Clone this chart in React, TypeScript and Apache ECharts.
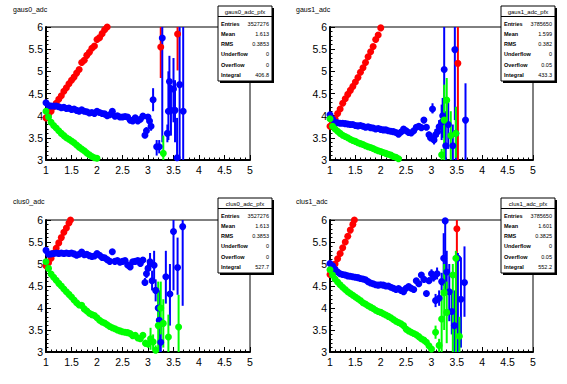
import React, { useEffect, useRef } from "react";
import * as echarts from "echarts";

// ---------- data (x, y) for dense bins; tails are [x, y, low, high] ----------
const titles = ["gaus0_adc", "gaus1_adc", "clus0_adc", "clus1_adc"];
const statNames = ["gaus0_adc_pfx", "gaus1_adc_pfx", "clus0_adc_pfx", "clus1_adc_pfx"];
const statLabels = ["Entries", "Mean", "RMS", "Underflow", "Overflow", "Integral"];
const statValues = [
  ["3527276", "1.613", "0.3853", "0", "0", "406.8"],
  ["3785650", "1.599", "0.382", "0", "0.05", "433.3"],
  ["3527276", "1.613", "0.3853", "0", "0", "527.7"],
  ["3785650", "1.601", "0.3825", "0", "0.05", "552.2"],
];
const xTicks = [1, 1.5, 2, 2.5, 3, 3.5, 4, 4.5, 5];
const yTicks = [3, 3.5, 4, 4.5, 5, 5.5, 6];

// panel 0: gaus0_adc
const red0 = [[1.00,3.95],[1.05,4.03],[1.10,4.10],[1.15,4.20],[1.20,4.28],[1.25,4.37],[1.30,4.45],[1.35,4.55],[1.40,4.63],[1.45,4.72],[1.50,4.80],[1.55,4.87],[1.60,4.96],[1.65,5.04],[1.70,5.20],[1.75,5.25],[1.80,5.36],[1.85,5.43],[1.90,5.52],[1.95,5.57],[2.00,5.72],[2.05,5.76],[2.10,5.85],[2.15,5.94],[2.20,6.00]];
const red0Tail = [[3.25,5.55,4.85,6.5],[3.58,5.84,5.02,6.6]];
const blue0 = [[1.00,4.29],[1.05,4.23],[1.10,4.22],[1.15,4.22],[1.20,4.22],[1.25,4.20],[1.30,4.18],[1.35,4.19],[1.40,4.16],[1.45,4.17],[1.50,4.14],[1.55,4.15],[1.60,4.12],[1.65,4.10],[1.70,4.13],[1.75,4.10],[1.80,4.09],[1.85,4.06],[1.90,4.07],[1.95,4.05],[2.00,4.10],[2.05,4.07],[2.10,4.05],[2.15,4.04],[2.20,4.00],[2.25,4.02],[2.30,4.10],[2.35,3.99],[2.40,4.00],[2.45,3.97],[2.50,3.97],[2.55,3.98],[2.60,3.97],[2.65,3.90],[2.70,3.88],[2.75,3.95],[2.80,3.88],[2.85,3.92],[2.90,3.99]];
const blue0Tail = [[2.94,3.56,3.50,3.63],[2.97,3.66,3.58,3.74],[3.00,3.97,3.90,4.04],[3.03,3.88,3.80,3.95],[3.06,3.76,3.66,3.86],[3.10,4.36,4.10,4.62],[3.17,3.30,3.10,3.45],[3.22,3.30,3.15,3.45],[3.28,5.75,3.40,6.5],[3.38,3.60,3.40,3.80],[3.40,4.10,3.45,5.00],[3.42,4.77,4.15,5.35],[3.45,4.12,3.55,4.70],[3.50,4.60,3.85,5.30],[3.53,4.12,3.40,4.80],[3.57,3.05,2.80,3.95],[3.62,4.70,3.00,6.00],[3.69,4.10,3.00,6.00]];
const green0 = [[1.00,4.10],[1.05,3.97],[1.10,3.85],[1.15,3.78],[1.20,3.72],[1.25,3.66],[1.30,3.60],[1.35,3.55],[1.40,3.50],[1.45,3.47],[1.50,3.43],[1.55,3.39],[1.60,3.34],[1.65,3.29],[1.70,3.25],[1.75,3.21],[1.80,3.16],[1.85,3.12],[1.90,3.08],[1.95,3.05],[2.00,3.04]];
const green0Tail = [[3.30,3.15,2.90,3.55]];

// panel 1: gaus1_adc
const red1 = [[1.00,3.76],[1.05,3.85],[1.10,3.93],[1.15,4.05],[1.20,4.15],[1.25,4.28],[1.30,4.38],[1.35,4.48],[1.40,4.57],[1.45,4.66],[1.50,4.76],[1.55,4.86],[1.60,4.98],[1.65,5.08],[1.70,5.20],[1.75,5.33],[1.80,5.44],[1.85,5.56],[1.90,5.72],[1.95,5.82],[2.00,5.98]];
const red1Tail = [[3.52,5.18,3.00,6.5]];
const blue1 = [[1.00,4.02],[1.05,3.92],[1.10,3.85],[1.15,3.84],[1.20,3.83],[1.25,3.83],[1.30,3.82],[1.35,3.81],[1.40,3.80],[1.45,3.80],[1.50,3.78],[1.55,3.77],[1.60,3.78],[1.65,3.76],[1.70,3.74],[1.75,3.75],[1.80,3.73],[1.85,3.72],[1.90,3.70],[1.95,3.71],[2.00,3.69],[2.05,3.68],[2.10,3.68],[2.15,3.66],[2.20,3.65],[2.25,3.64],[2.30,3.62],[2.35,3.58],[2.40,3.63],[2.45,3.70],[2.50,3.66],[2.55,3.62],[2.60,3.61],[2.65,3.66],[2.70,3.74],[2.75,3.76],[2.80,3.73],[2.85,3.90],[2.90,3.74]];
const blue1Tail = [[2.95,3.57,3.50,3.64],[2.98,3.50,3.42,3.58],[3.02,4.15,4.05,4.28],[3.05,3.45,3.35,3.55],[3.08,3.57,3.45,3.70],[3.12,3.64,3.52,3.76],[3.15,3.75,3.60,3.90],[3.20,3.85,3.45,4.25],[3.22,4.00,3.50,4.40],[3.25,5.04,4.10,6.5],[3.28,3.32,3.00,4.10],[3.33,3.80,3.25,4.30],[3.42,3.32,3.00,3.80],[3.46,5.49,3.90,6.5],[3.48,3.60,3.00,4.20],[3.67,3.90,3.00,4.73]];
const green1 = [[1.00,3.93],[1.05,3.76],[1.10,3.70],[1.15,3.65],[1.20,3.60],[1.25,3.56],[1.30,3.53],[1.35,3.50],[1.40,3.47],[1.45,3.44],[1.50,3.42],[1.55,3.39],[1.60,3.37],[1.65,3.35],[1.70,3.32],[1.75,3.30],[1.80,3.28],[1.85,3.26],[1.90,3.23],[1.95,3.21],[2.00,3.19],[2.05,3.17],[2.10,3.15],[2.15,3.13],[2.20,3.11],[2.25,3.08],[2.30,3.06],[2.35,3.03]];
const green1Tail = [[3.20,3.12,3.00,3.25],[3.25,3.90,3.00,4.70],[3.30,4.35,3.80,4.85],[3.38,3.55,3.00,4.10],[3.48,3.60,3.05,4.20]];

// panel 2: clus0_adc
const red2 = [[1.00,4.96],[1.05,5.03],[1.10,5.13],[1.15,5.25],[1.20,5.36],[1.25,5.48],[1.30,5.60],[1.35,5.72],[1.40,5.82],[1.45,5.93],[1.48,6.00]];
const red2Tail = [];
const blue2 = [[1.00,5.31],[1.05,5.22],[1.10,5.23],[1.15,5.24],[1.20,5.25],[1.25,5.24],[1.30,5.25],[1.35,5.24],[1.40,5.25],[1.45,5.24],[1.50,5.25],[1.55,5.23],[1.60,5.20],[1.65,5.22],[1.70,5.27],[1.75,5.21],[1.80,5.22],[1.85,5.19],[1.90,5.17],[1.95,5.18],[2.00,5.24],[2.05,5.20],[2.10,5.15],[2.15,5.14],[2.20,5.10],[2.25,5.06],[2.30,5.28],[2.35,5.06],[2.40,5.08],[2.45,5.04],[2.50,5.06],[2.55,5.08],[2.60,4.98],[2.65,4.93],[2.70,5.05],[2.75,5.06],[2.80,5.08],[2.85,5.01],[2.90,5.09]];
const blue2Tail = [[2.94,4.58,4.50,4.68],[2.97,4.78,4.68,4.88],[3.00,4.90,4.78,5.02],[3.04,5.05,4.85,5.25],[3.08,4.62,4.40,4.85],[3.12,4.97,4.60,5.30],[3.15,4.40,4.15,4.65],[3.20,4.00,3.60,4.45],[3.22,3.72,3.00,4.40],[3.25,3.22,3.00,3.60],[3.35,4.71,4.10,5.30],[3.43,4.32,3.60,5.00],[3.50,5.74,4.40,6.5],[3.58,4.92,4.30,5.60],[3.68,5.85,4.05,6.5]];
const green2 = [[1.00,5.05],[1.05,4.90],[1.10,4.77],[1.15,4.70],[1.20,4.63],[1.25,4.56],[1.30,4.50],[1.35,4.43],[1.40,4.37],[1.45,4.31],[1.50,4.25],[1.55,4.18],[1.60,4.12],[1.65,4.07],[1.70,4.06],[1.75,3.98],[1.80,3.93],[1.85,3.88],[1.90,3.85],[1.95,3.83],[2.00,3.78],[2.05,3.72],[2.10,3.68],[2.15,3.66],[2.20,3.62],[2.25,3.58],[2.30,3.55],[2.35,3.53],[2.40,3.50],[2.45,3.48],[2.50,3.46],[2.55,3.45],[2.60,3.44],[2.65,3.42],[2.70,3.37],[2.75,3.38],[2.80,3.32],[2.85,3.30],[2.90,3.38]];
const green2Tail = [[2.95,3.20,3.12,3.28],[3.00,3.18,3.10,3.26],[3.05,3.30,3.05,3.55],[3.10,3.23,3.05,3.40],[3.15,3.04,3.00,3.15],[3.20,3.60,3.00,4.60],[3.25,4.00,3.40,4.60],[3.30,3.65,3.10,4.20],[3.40,3.34,3.00,3.85],[3.60,3.57,3.00,4.30]];

// panel 3: clus1_adc
const red3 = [[1.00,4.76],[1.05,4.85],[1.10,5.00],[1.15,5.12],[1.20,5.24],[1.25,5.37],[1.30,5.50],[1.35,5.63],[1.40,5.77],[1.45,5.90],[1.48,6.00]];
const red3Tail = [[3.50,5.80,3.50,6.5]];
const blue3 = [[1.00,5.01],[1.05,4.96],[1.10,4.88],[1.15,4.82],[1.20,4.78],[1.25,4.76],[1.30,4.75],[1.35,4.73],[1.40,4.72],[1.45,4.71],[1.50,4.70],[1.55,4.69],[1.60,4.67],[1.65,4.66],[1.70,4.64],[1.75,4.60],[1.80,4.57],[1.85,4.55],[1.90,4.53],[1.95,4.52],[2.00,4.53],[2.05,4.52],[2.10,4.50],[2.15,4.50],[2.20,4.47],[2.25,4.45],[2.30,4.42],[2.35,4.44],[2.40,4.40],[2.45,4.37],[2.50,4.45],[2.55,4.49],[2.60,4.45],[2.65,4.42],[2.70,4.62],[2.75,4.55],[2.80,4.75],[2.85,4.65],[2.90,4.33]];
const blue3Tail = [[2.95,4.62,4.55,4.70],[3.00,4.78,4.68,4.88],[3.04,4.70,4.60,4.80],[3.08,4.17,4.02,4.32],[3.11,4.78,4.65,4.92],[3.15,4.22,4.05,4.40],[3.20,4.60,4.40,4.80],[3.24,5.13,4.50,5.70],[3.27,5.98,4.40,6.5],[3.30,4.82,4.40,5.30],[3.35,4.37,3.70,5.00],[3.40,3.92,3.40,4.40],[3.45,3.60,3.00,4.40],[3.52,5.13,3.00,5.25],[3.58,4.20,3.10,5.15],[3.65,4.58,3.80,5.40]];
const green3 = [[1.00,4.87],[1.05,4.75],[1.10,4.66],[1.15,4.59],[1.20,4.53],[1.25,4.47],[1.30,4.42],[1.35,4.37],[1.40,4.33],[1.45,4.29],[1.50,4.25],[1.55,4.21],[1.60,4.17],[1.65,4.12],[1.70,4.09],[1.75,4.05],[1.80,4.02],[1.85,3.99],[1.90,3.95],[1.95,3.92],[2.00,3.90],[2.05,3.87],[2.10,3.84],[2.15,3.81],[2.20,3.78],[2.25,3.74],[2.30,3.70],[2.35,3.67],[2.40,3.64],[2.45,3.60],[2.50,3.52],[2.55,3.48],[2.60,3.45],[2.65,3.42],[2.70,3.39],[2.75,3.35],[2.80,3.30],[2.85,3.27],[2.90,3.22],[2.95,3.14],[3.00,3.07]];
const green3Tail = [[3.08,3.45,3.30,3.60],[3.15,3.15,3.00,3.30],[3.20,3.75,3.00,4.40],[3.25,4.35,3.50,5.00],[3.30,3.90,3.20,4.60],[3.42,4.75,3.00,5.00],[3.48,5.13,3.00,5.30],[3.55,3.36,3.00,3.80]];

const panels = [
  { red: red0, redT: red0Tail, blue: blue0, blueT: blue0Tail, green: green0, greenT: green0Tail },
  { red: red1, redT: red1Tail, blue: blue1, blueT: blue1Tail, green: green1, greenT: green1Tail },
  { red: red2, redT: red2Tail, blue: blue2, blueT: blue2Tail, green: green2, greenT: green2Tail },
  { red: red3, redT: red3Tail, blue: blue3, blueT: blue3Tail, green: green3, greenT: green3Tail },
];

const RED = "#ff0000";
const BLUE = "#0000ff";
const GREEN = "#00ff00";
const FONT = "'Liberation Sans', Arial, sans-serif";

// layout
const offsets = [[0, 0], [283, 0], [0, 192], [283, 192]];
const gridBox = [
  { left: 46, top: 27, width: 204, height: 133 },
  { left: 330, top: 27, width: 203, height: 133 },
  { left: 46, top: 220, width: 204, height: 132 },
  { left: 330, top: 220, width: 203, height: 132 },
];

function barSeries(idx: number, tail: number[][], color: string) {
  return {
    type: "custom",
    xAxisIndex: idx,
    yAxisIndex: idx,
    silent: true,
    data: tail.map((t) => [t[0], t[2], t[3]]),
    encode: { x: 0, y: [1, 2] },
    renderItem: (params: any, api: any) => {
      const x = api.value(0);
      const lo = Math.max(3, api.value(1));
      const hi = Math.min(6, api.value(2));
      if (hi <= lo) return null;
      const p1 = api.coord([x, lo]);
      const p2 = api.coord([x, hi]);
      return {
        type: "line",
        shape: { x1: p1[0], y1: p1[1], x2: p2[0], y2: p2[1] },
        style: { stroke: color, lineWidth: 2 },
      };
    },
  };
}

function pointSeries(idx: number, dense: number[][], tail: number[][], color: string) {
  return {
    type: "scatter",
    xAxisIndex: idx,
    yAxisIndex: idx,
    silent: true,
    clip: true,
    symbol: "circle",
    symbolSize: 7,
    itemStyle: { color, opacity: 1 },
    data: dense.concat(tail.map((t) => [t[0], t[1]])),
  };
}

function statsBox(i: number) {
  const [ox, oy] = offsets[i];
  const x = ox + 218;
  const y = oy + 6;
  const w = 54;
  const h = 75;
  const children: any[] = [
    { type: "rect", shape: { x: x + 2, y: y + 2, width: w, height: h }, style: { fill: "#000" } },
    { type: "rect", shape: { x, y, width: w, height: h }, style: { fill: "#fff", stroke: "#000", lineWidth: 1 } },
    { type: "line", shape: { x1: x, y1: y + 10.5, x2: x + w, y2: y + 10.5 }, style: { stroke: "#000", lineWidth: 1 } },
    {
      type: "text",
      style: { x: x + w / 2, y: y + 5.5, text: statNames[i], align: "center", verticalAlign: "middle", font: `6px ${FONT}`, fill: "#000" },
    },
  ];
  statLabels.forEach((lab, k) => {
    const ty = y + 17.5 + k * 10.3;
    children.push({
      type: "text",
      style: { x: x + 3, y: ty, text: lab, align: "left", verticalAlign: "middle", font: `bold 5.5px ${FONT}`, fill: "#000" },
    });
    children.push({
      type: "text",
      style: { x: x + w - 3, y: ty, text: statValues[i][k], align: "right", verticalAlign: "middle", font: `5.5px ${FONT}`, fill: "#000" },
    });
  });
  return { type: "group", z: 100, children };
}

export default function App() {
  const ref = useRef<HTMLDivElement>(null);
  useEffect(() => {
    if (!ref.current) return;
    const chart = echarts.init(ref.current, undefined, { renderer: "svg" });
    const series: any[] = [];
    panels.forEach((p, i) => {
      series.push(barSeries(i, p.redT, RED));
      series.push(pointSeries(i, p.red, p.redT, RED));
      series.push(barSeries(i, p.blueT, BLUE));
      series.push(pointSeries(i, p.blue, p.blueT, BLUE));
      series.push(barSeries(i, p.greenT, GREEN));
      series.push(pointSeries(i, p.green, p.greenT, GREEN));
    });
    const graphics: any[] = [];
    titles.forEach((t, i) => {
      const [ox, oy] = offsets[i];
      graphics.push({
        type: "text",
        style: { x: ox + 13, y: oy + 9, text: t, align: "left", verticalAlign: "middle", font: `7px ${FONT}`, fill: "#000" },
      });
      graphics.push(statsBox(i));
    });
    const axisCommon = {
      type: "value",
      axisLine: { show: true, lineStyle: { color: "#000", width: 2 } },
      axisTick: { show: true, inside: true, length: 5, lineStyle: { color: "#000", width: 1 } },
      minorTick: { show: true, splitNumber: 5, length: 2.5, lineStyle: { color: "#000", width: 1 } },
      splitLine: { show: false },
      minorSplitLine: { show: false },
    };
    chart.setOption({
      animation: false,
      backgroundColor: "#fff",
      grid: gridBox.map((g) => ({ ...g, show: true, borderColor: "#000", borderWidth: 1, backgroundColor: "transparent" })),
      xAxis: gridBox.map((_, i) => ({
        ...axisCommon,
        gridIndex: i,
        min: xTicks[0],
        max: xTicks[xTicks.length - 1],
        interval: 0.5,
        axisLabel: { color: "#000", fontSize: 10.5, fontFamily: FONT, margin: 4, showMinLabel: true, showMaxLabel: true },
      })),
      yAxis: gridBox.map((_, i) => ({
        ...axisCommon,
        gridIndex: i,
        min: yTicks[0],
        max: yTicks[yTicks.length - 1],
        interval: 0.5,
        axisLabel: { color: "#000", fontSize: 10.5, fontFamily: FONT, margin: 3, showMinLabel: true, showMaxLabel: true },
      })),
      series,
      graphic: graphics,
    });
    return () => chart.dispose();
  }, []);
  return (
    <div
      ref={ref}
      style={{ position: "absolute", left: 0, top: 0, width: 567, height: 384, background: "#fff" }}
    />
  );
}
